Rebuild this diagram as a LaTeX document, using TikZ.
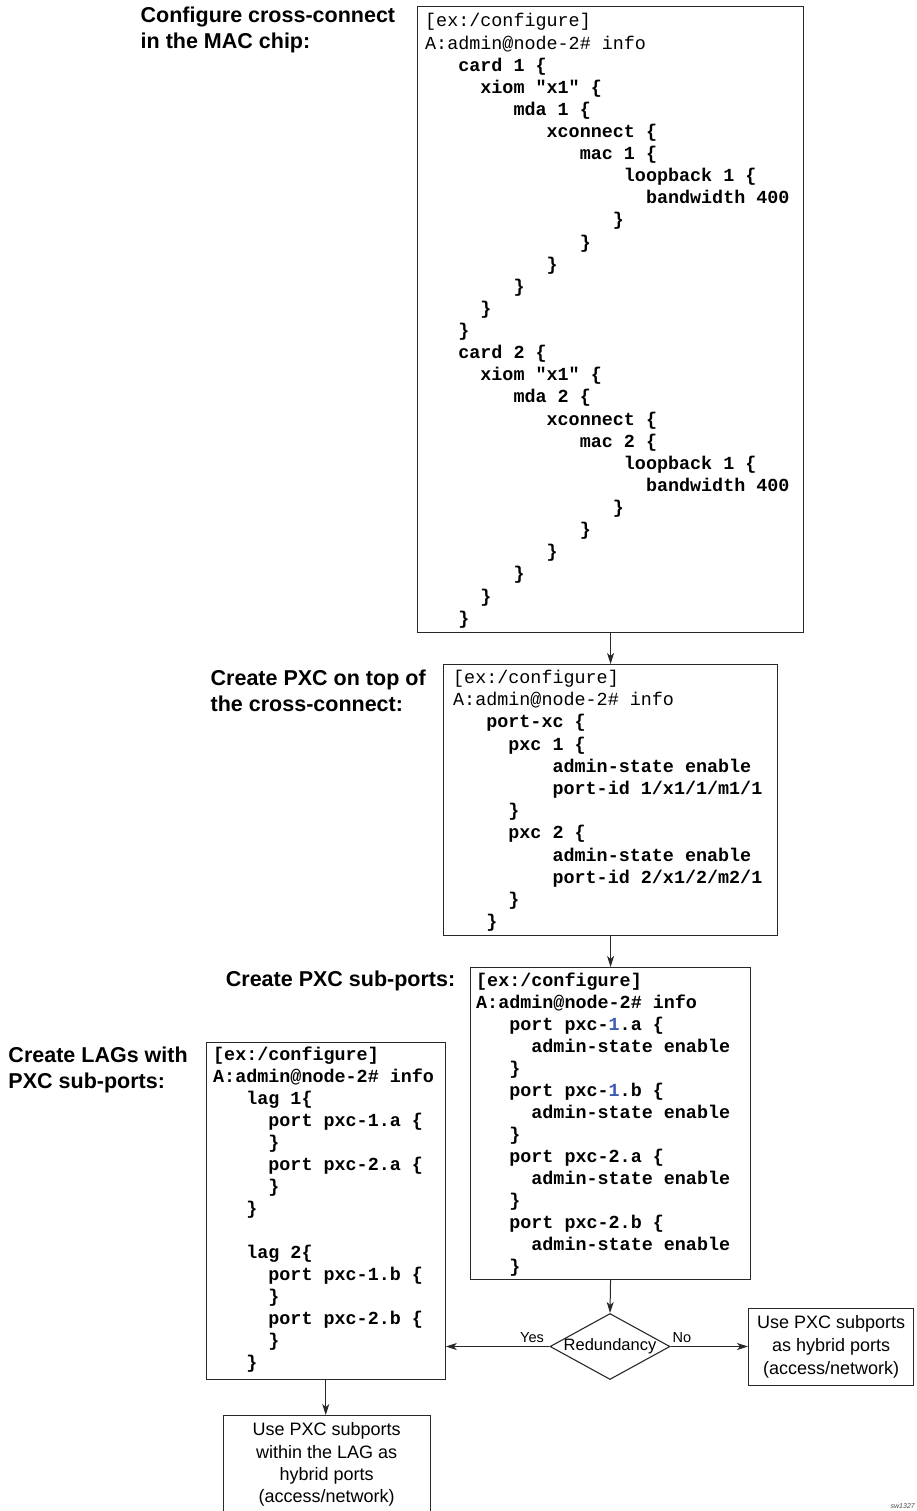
\documentclass[tikz,border=0pt]{standalone}
\usepackage{fontspec}
\setmainfont{Liberation Sans}
\setmonofont{Liberation Mono}
\usetikzlibrary{arrows.meta,shapes.geometric}
\newlength\cw
\setlength\cw{11.04pt}
\newcommand\indc[1]{\hspace*{#1\cw}}
\newcommand\md[1]{{\mdseries #1}}
\newcommand\topr[1]{\rule{0pt}{#1}}
\newcommand\bone{\textcolor{pxcblue}{1}}
\definecolor{pxcblue}{RGB}{60,90,175}
\definecolor{linec}{RGB}{40,40,40}
\begin{document}
\begin{tikzpicture}[x=1pt,y=-1pt,
  box/.style={draw=linec, line width=1.1pt, inner sep=0pt, anchor=north west},
  code/.style={anchor=north west, inner sep=0pt, align=left, text=black},
  lbl/.style={anchor=north west, inner sep=0pt, align=left, font=\bfseries\fontsize{21.5}{26}\selectfont},
  arr/.style={draw=linec, line width=1pt, -{Stealth[length=11pt,width=7pt,inset=3pt]}},
  small/.style={align=center, font=\fontsize{18}{23}\selectfont},
  edgelbl/.style={inner sep=0pt, font=\fontsize{14.5}{16}\selectfont}
]
\useasboundingbox (0,0) rectangle (916,1511);

% ---------- labels ----------
\node[lbl] (l1) at (140.5,2.5) {\topr{20pt}Configure cross-connect\\in the MAC chip:};
\node[lbl] (l2) at (210.5,665) {\topr{20pt}Create PXC on top of\\the cross-connect:};
\node[lbl] (l3) at (225.7,966.7) {\topr{20pt}Create PXC sub-ports:};
\node[lbl] (l4) at (8.3,1042.3) {\topr{20pt}Create LAGs with\\PXC sub-ports:};

% ---------- boxes ----------
\node[box, minimum width=386pt, minimum height=625.5pt] (b1) at (417,6) {};
\node[box, minimum width=334pt, minimum height=271pt] (b2) at (443,664) {};
\node[box, minimum width=280pt, minimum height=312pt] (b3) at (470,967) {};
\node[box, minimum width=239pt, minimum height=337pt] (b4) at (205.7,1041.7) {};

% ---------- code texts ----------
\node[code, font=\ttfamily\bfseries\fontsize{18.4}{22.12}\selectfont] (t1) at (425,8.7) {%
\topr{18pt}\md{[ex:/configure]}\\
\md{A:admin@node-2\# info}\\
\indc{3}card 1 \{\\
\indc{5}xiom "x1" \{\\
\indc{8}mda 1 \{\\
\indc{11}xconnect \{\\
\indc{14}mac 1 \{\\
\indc{18}loopback 1 \{\\
\indc{20}bandwidth 400\\
\indc{17}\}\\
\indc{14}\}\\
\indc{11}\}\\
\indc{8}\}\\
\indc{5}\}\\
\indc{3}\}\\
\indc{3}card 2 \{\\
\indc{5}xiom "x1" \{\\
\indc{8}mda 2 \{\\
\indc{11}xconnect \{\\
\indc{14}mac 2 \{\\
\indc{18}loopback 1 \{\\
\indc{20}bandwidth 400\\
\indc{17}\}\\
\indc{14}\}\\
\indc{11}\}\\
\indc{8}\}\\
\indc{5}\}\\
\indc{3}\}};

\node[code, font=\ttfamily\bfseries\fontsize{18.4}{22.2}\selectfont] (t2) at (453,665.3) {%
\topr{18pt}\md{[ex:/configure]}\\
\md{A:admin@node-2\# info}\\
\indc{3}port-xc \{\\
\indc{5}pxc 1 \{\\
\indc{9}admin-state enable\\
\indc{9}port-id 1/x1/1/m1/1\\
\indc{5}\}\\
\indc{5}pxc 2 \{\\
\indc{9}admin-state enable\\
\indc{9}port-id 2/x1/2/m2/1\\
\indc{5}\}\\
\indc{3}\}};

\node[code, font=\ttfamily\bfseries\fontsize{18.4}{21.95}\selectfont] (t3) at (476,968.7) {%
\topr{18pt}[ex:/configure]\\
A:admin@node-2\# info\\
\indc{3}port pxc-\bone.a \{\\
\indc{5}admin-state enable\\
\indc{3}\}\\
\indc{3}port pxc-\bone.b \{\\
\indc{5}admin-state enable\\
\indc{3}\}\\
\indc{3}port pxc-2.a \{\\
\indc{5}admin-state enable\\
\indc{3}\}\\
\indc{3}port pxc-2.b \{\\
\indc{5}admin-state enable\\
\indc{3}\}};

\node[code, font=\ttfamily\bfseries\fontsize{18.4}{22}\selectfont] (t4) at (213,1042.7) {%
\topr{18pt}[ex:/configure]\\
A:admin@node-2\# info\\
\indc{3}lag 1\{\\
\indc{5}port pxc-1.a \{\\
\indc{5}\}\\
\indc{5}port pxc-2.a \{\\
\indc{5}\}\\
\indc{3}\}\\
\mbox{}\\
\indc{3}lag 2\{\\
\indc{5}port pxc-1.b \{\\
\indc{5}\}\\
\indc{5}port pxc-2.b \{\\
\indc{5}\}\\
\indc{3}\}};

% ---------- decision and results ----------
\node[draw=linec, line width=1.1pt, diamond, inner sep=0pt, minimum width=120pt, minimum height=66pt] (dia) at (610,1346.5) {};
\node[inner sep=0pt, font=\fontsize{16.5}{18}\selectfont] (red) at (dia.center) {Redundancy};
\node[box, small, minimum width=165pt, minimum height=77pt] (rb) at (748,1307.5)
  {Use PXC subports\\as hybrid ports\\(access/network)};
\node[box, small, font=\fontsize{18}{22.3}\selectfont, minimum width=207pt, minimum height=98pt] (bb) at (222.5,1415)
  {Use PXC subports\\within the LAG as\\hybrid ports\\(access/network)};

% ---------- connectors ----------
\draw[arr] (b1.south) -- (b2.north);
\draw[arr] (b2.south) -- (b3.north);
\draw[arr] (b3.south) -- (dia.north);
\draw[arr] (dia.west) -- (dia.west -| b4.east);
\draw[arr] (dia.east) -- (dia.east -| rb.west);
\draw[arr] (b4.south) -- (b4.south |- bb.north);

\node[edgelbl] (yes) at (532,1337.3) {Yes};
\node[edgelbl] (no) at (682,1337.3) {No};

\node[anchor=base east, inner sep=0pt, text=black!70, font=\itshape\fontsize{7}{8}\selectfont] (fid) at (915,1508.5) {sw1327};
\end{tikzpicture}
\end{document}
